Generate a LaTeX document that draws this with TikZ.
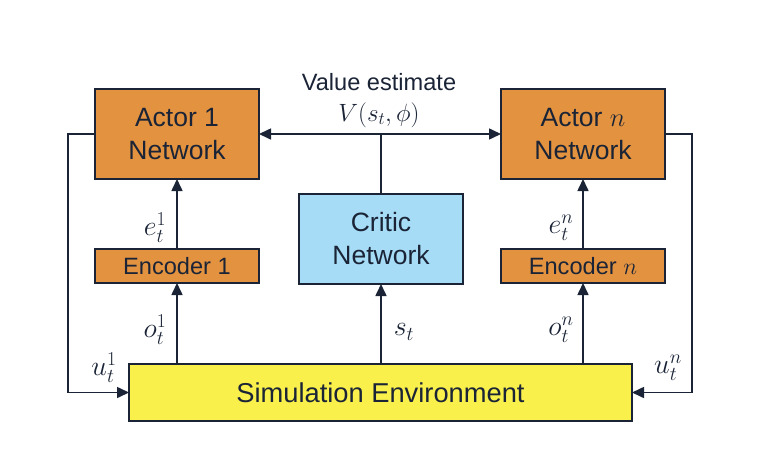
\RequirePackage{fix-cm}
\documentclass[tikz,border=0pt]{standalone}
\usepackage{fontspec}
\setmainfont{Liberation Sans}
\usetikzlibrary{positioning,arrows.meta}

\definecolor{actorfill}{RGB}{227,146,64}
\definecolor{criticfill}{RGB}{166,220,246}
\definecolor{envfill}{RGB}{250,240,76}
\definecolor{linecol}{RGB}{26,36,54}

\begin{document}
\begin{tikzpicture}[x=1pt, y=-1pt, auto, >={Triangle[length=12pt,width=11pt]},
    line width=1.6pt, color=linecol,
    block/.style={draw=linecol, rectangle, outer sep=0pt, inner sep=0pt, align=center},
    actor/.style={block, fill=actorfill, minimum width=164pt, minimum height=90pt,
        font=\fontsize{26.5}{33}\selectfont},
    encoder/.style={block, fill=actorfill, minimum width=164pt, minimum height=34pt,
        font=\fontsize{23.6}{28}\selectfont},
    critic/.style={block, fill=criticfill, minimum width=164pt, minimum height=90pt,
        font=\fontsize{26.5}{33}\selectfont},
    env/.style={block, fill=envfill, minimum width=503pt, minimum height=57pt,
        font=\fontsize{27.3}{32}\selectfont},
    lbl/.style={inner sep=0pt, font=\fontsize{28}{32}\selectfont}]
            \useasboundingbox (0,0) rectangle (770,468);

            \node[actor] (actor1) at (177,134) {Actor 1\\Network};
            \node[encoder, below=70pt of actor1] (enc1) {Encoder 1};
            \node[actor, right=242pt of actor1] (actorn) {Actor $n$\\Network};
            \node[encoder, below=70pt of actorn] (encn) {Encoder $n$};
            \node[critic] (critic) at (381,239) {Critic\\Network};
            \node[env] (env) at (380.5,392.5) {Simulation Environment};

            \node[lbl, font=\fontsize{23.6}{28}\selectfont] (valtxt) at (379,82) {Value estimate};
            \node[lbl, font=\fontsize{25}{30}\selectfont] (valmath) at (379,115) {$V(s_t,\phi)$};

            \draw[<->] (actor1) -- (actorn);
            \draw (critic) -- (critic |- actor1);

            \draw[->] (enc1) -- (actor1);
            \draw[->] (encn) -- (actorn);
            \draw[->] (env.north -| enc1) -- (enc1);
            \draw[->] (env.north -| critic) -- (critic);
            \draw[->] (env.north -| encn) -- (encn);

            \draw[->] (actor1.west) -- ++(-27,0) |- (env.west);
            \draw[->] (actorn.east) -- ++(27,0) |- (env.east);

            \node[lbl] (e1) at (155,228) {$e_t^1$};
            \node[lbl] (en) at (561,228) {$e_t^n$};
            \node[lbl] (o1) at (155,330) {$o_t^1$};
            \node[lbl] (on) at (561,330) {$o_t^n$};
            \node[lbl] (st) at (404,332) {$s_t$};
            \node[lbl] (u1) at (104,368) {$u_t^1$};
            \node[lbl] (un) at (668,368) {$u_t^n$};
        \end{tikzpicture}
\end{document}
